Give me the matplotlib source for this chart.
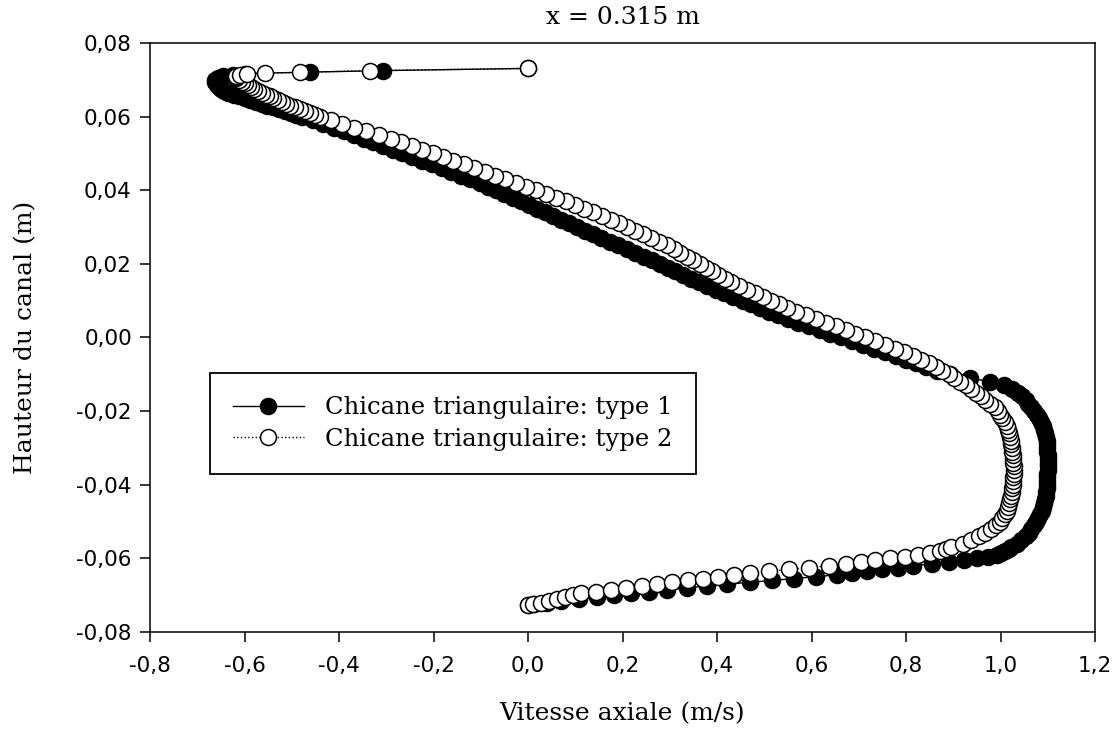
import matplotlib
matplotlib.use("Agg")
import matplotlib.pyplot as plt
from matplotlib.ticker import FuncFormatter

# Shared height grid (m) for the main part of both profiles
hauteur = [
    -0.0728, -0.0725, -0.0720, -0.0715, -0.0710, -0.0705, -0.0700, -0.0695, -0.0690, -0.0685,
    -0.0680, -0.0675, -0.0670, -0.0665, -0.0660, -0.0655, -0.0650, -0.0645, -0.0640, -0.0635,
    -0.0630, -0.0625, -0.0620, -0.0615, -0.0610, -0.0605,
    -0.0600, -0.0595, -0.0590, -0.0585, -0.0580, -0.0575,
    -0.057, -0.056, -0.055, -0.054, -0.053, -0.052, -0.051,
    -0.050, -0.049, -0.048, -0.047, -0.046, -0.045, -0.044, -0.043, -0.042, -0.041,
    -0.040, -0.039, -0.038, -0.037, -0.036, -0.035, -0.034, -0.033, -0.032, -0.031,
    -0.030, -0.029, -0.028, -0.027, -0.026, -0.025, -0.024, -0.023, -0.022, -0.021,
    -0.020, -0.019, -0.018, -0.017, -0.016, -0.015, -0.014, -0.013, -0.012, -0.011,
    -0.010, -0.009, -0.008, -0.007, -0.006, -0.005, -0.004, -0.003, -0.002, -0.001,
    0.000, 0.001, 0.002, 0.003, 0.004, 0.005, 0.006, 0.007, 0.008, 0.009,
    0.010, 0.011, 0.012, 0.013, 0.014, 0.015, 0.016, 0.017, 0.018, 0.019,
    0.020, 0.021, 0.022, 0.023, 0.024, 0.025, 0.026, 0.027, 0.028, 0.029,
    0.030, 0.031, 0.032, 0.033, 0.034, 0.035, 0.036, 0.037, 0.038, 0.039,
    0.040, 0.041, 0.042, 0.043, 0.044, 0.045, 0.046, 0.047, 0.048, 0.049,
    0.050, 0.051, 0.052, 0.053, 0.054, 0.055, 0.056, 0.057, 0.058, 0.059,
    0.060,
    0.0605, 0.0610, 0.0615, 0.0620, 0.0625, 0.0630, 0.0635, 0.0640, 0.0645, 0.0650,
    0.0655, 0.0660, 0.0665, 0.0670, 0.0675, 0.0680, 0.0685, 0.0690, 0.0695, 0.0700,
]

# Type 1 (filled circles) axial velocity (m/s) on the grid
vitesse_type1 = [
    0.000, 0.012, 0.040, 0.070, 0.107, 0.145, 0.182, 0.219, 0.256, 0.295,
    0.337, 0.379, 0.421, 0.470, 0.516, 0.563, 0.610, 0.653, 0.686, 0.718,
    0.750, 0.783, 0.815, 0.855, 0.890, 0.922,
    0.950, 0.973, 0.992, 1.002, 1.010, 1.017,
    1.023, 1.034, 1.044, 1.053, 1.060, 1.065, 1.070,
    1.075, 1.079, 1.083, 1.087, 1.090, 1.093, 1.095, 1.096, 1.097, 1.098,
    1.098, 1.099, 1.099, 1.099, 1.100, 1.100, 1.100, 1.100, 1.100, 1.099,
    1.099, 1.098, 1.098, 1.097, 1.095, 1.093, 1.090, 1.086, 1.082, 1.077,
    1.071, 1.065, 1.059, 1.053, 1.045, 1.036, 1.025, 1.008, 0.978, 0.935,
    0.893, 0.866, 0.843, 0.821, 0.800, 0.778, 0.755, 0.732, 0.709, 0.686,
    0.663, 0.640, 0.617, 0.594, 0.571, 0.550, 0.530, 0.511, 0.492, 0.473,
    0.454, 0.434, 0.415, 0.397, 0.379, 0.362, 0.345, 0.328, 0.311, 0.296,
    0.279, 0.262, 0.245, 0.227, 0.209, 0.191, 0.173, 0.155, 0.138, 0.121,
    0.104, 0.087, 0.070, 0.053, 0.036, 0.019, 0.002, -0.015, -0.032, -0.050,
    -0.067, -0.084, -0.101, -0.122, -0.142, -0.163, -0.183, -0.204, -0.225, -0.245,
    -0.266, -0.286, -0.307, -0.327, -0.348, -0.368, -0.389, -0.410, -0.433, -0.456,
    -0.479,
    -0.491, -0.502, -0.514, -0.527, -0.539, -0.552, -0.564, -0.576, -0.588, -0.600,
    -0.612, -0.623, -0.634, -0.643, -0.650, -0.655, -0.659, -0.661, -0.662, -0.662,
]

# Type 2 (open circles) axial velocity (m/s) on the grid
vitesse_type2 = [
    0.000, 0.010, 0.027, 0.044, 0.061, 0.078, 0.095, 0.112, 0.143, 0.176,
    0.208, 0.241, 0.273, 0.305, 0.338, 0.371, 0.403, 0.436, 0.469, 0.510,
    0.552, 0.594, 0.636, 0.673, 0.704, 0.735,
    0.766, 0.798, 0.826, 0.850, 0.872, 0.884,
    0.895, 0.921, 0.938, 0.954, 0.968, 0.980, 0.990,
    0.998, 1.004, 1.009, 1.013, 1.016, 1.019, 1.021, 1.023, 1.024, 1.025,
    1.026, 1.027, 1.027, 1.028, 1.028, 1.028, 1.027, 1.027, 1.026, 1.025,
    1.024, 1.023, 1.022, 1.020, 1.018, 1.016, 1.013, 1.009, 1.004, 0.999,
    0.994, 0.988, 0.978, 0.968, 0.958, 0.948, 0.938, 0.928, 0.915, 0.902,
    0.890, 0.877, 0.864, 0.848, 0.832, 0.815, 0.796, 0.777, 0.756, 0.735,
    0.714, 0.693, 0.672, 0.651, 0.630, 0.609, 0.588, 0.567, 0.549, 0.532,
    0.515, 0.498, 0.481, 0.464, 0.447, 0.430, 0.416, 0.403, 0.390, 0.377,
    0.364, 0.350, 0.336, 0.322, 0.308, 0.294, 0.277, 0.260, 0.244, 0.227,
    0.210, 0.193, 0.176, 0.157, 0.138, 0.119, 0.100, 0.081, 0.060, 0.038,
    0.017, -0.005, -0.026, -0.048, -0.069, -0.091, -0.114, -0.136, -0.158, -0.180,
    -0.202, -0.224, -0.246, -0.268, -0.290, -0.316, -0.342, -0.368, -0.393, -0.417,
    -0.440,
    -0.451, -0.462, -0.473, -0.483, -0.493, -0.503, -0.512, -0.521, -0.530, -0.539,
    -0.547, -0.555, -0.563, -0.571, -0.579, -0.586, -0.593, -0.600, -0.606, -0.612,
]

# Near-wall points at the top of the channel
hauteur_paroi_type1 = [0.0705, 0.0710, 0.0714, 0.0717, 0.0721, 0.0725, 0.0731]
vitesse_paroi_type1 = [-0.657, -0.645, -0.625, -0.598, -0.461, -0.307, 0.000]
hauteur_paroi_type2 = [0.0704, 0.0708, 0.0711, 0.0714, 0.0716, 0.0718, 0.0720, 0.0725, 0.0731]
vitesse_paroi_type2 = [-0.618, -0.620, -0.617, -0.609, -0.594, -0.557, -0.483, -0.334, 0.000]

labels = ["Chicane triangulaire: type 1", "Chicane triangulaire: type 2"]
x_ticks = [-0.8, -0.6, -0.4, -0.2, 0.0, 0.2, 0.4, 0.6, 0.8, 1.0, 1.2]
y_ticks = [-0.08, -0.06, -0.04, -0.02, 0.00, 0.02, 0.04, 0.06, 0.08]

y1 = hauteur + hauteur_paroi_type1
x1 = vitesse_type1 + vitesse_paroi_type1
y2 = hauteur + hauteur_paroi_type2
x2 = vitesse_type2 + vitesse_paroi_type2

serif = "DejaVu Serif"
sans = "DejaVu Sans"


def fmt_x(v, p):
    return "0,0" if abs(v) < 1e-9 else f"{v:.1f}".replace(".", ",")


def fmt_y(v, p):
    return "0,00" if abs(v) < 1e-9 else f"{v:.2f}".replace(".", ",")


fig = plt.figure(figsize=(11.17, 7.33), dpi=100)
ax = fig.add_axes([150 / 1117, 1 - 632 / 733, 945 / 1117, 589 / 733])

ax.plot(x1, y1, color="black", lw=1.0, ls="-", marker="o", ms=11.5,
        mfc="black", mec="black", mew=1.1, label=labels[0], zorder=2)
ax.plot(x2, y2, color="black", lw=1.0, ls=":", marker="o", ms=11.5,
        mfc="white", mec="black", mew=1.1, label=labels[1], zorder=3)

ax.set_xlim(-0.8, 1.2)
ax.set_ylim(-0.08, 0.08)
ax.set_xticks(x_ticks)
ax.set_yticks(y_ticks)
ax.xaxis.set_major_formatter(FuncFormatter(fmt_x))
ax.yaxis.set_major_formatter(FuncFormatter(fmt_y))

for s in ax.spines.values():
    s.set_linewidth(1.1)
    s.set_color("black")
ax.tick_params(axis="both", direction="out", length=7, width=1.1, labelsize=15.5,
               top=False, right=False)
ax.tick_params(axis="x", pad=10)
ax.tick_params(axis="y", pad=6)
for lab in ax.get_xticklabels() + ax.get_yticklabels():
    lab.set_family(sans)

ax.set_xlabel("Vitesse axiale (m/s)", family=serif, fontsize=18, labelpad=19)
ax.set_ylabel("Hauteur du canal (m)", family=serif, fontsize=18, labelpad=28)
ax.set_title("x = 0.315 m", family=serif, fontsize=18, pad=14)

leg = ax.legend(loc="upper left", bbox_to_anchor=(0.0635, 0.4397), borderaxespad=0,
                frameon=True, fancybox=False, edgecolor="black", framealpha=1,
                handlelength=2.9, handletextpad=0.9, borderpad=0.95, labelspacing=0.35,
                prop={"family": serif, "size": 17.5})
leg.get_frame().set_linewidth(1.3)

fig.savefig("out.png", dpi=100)
